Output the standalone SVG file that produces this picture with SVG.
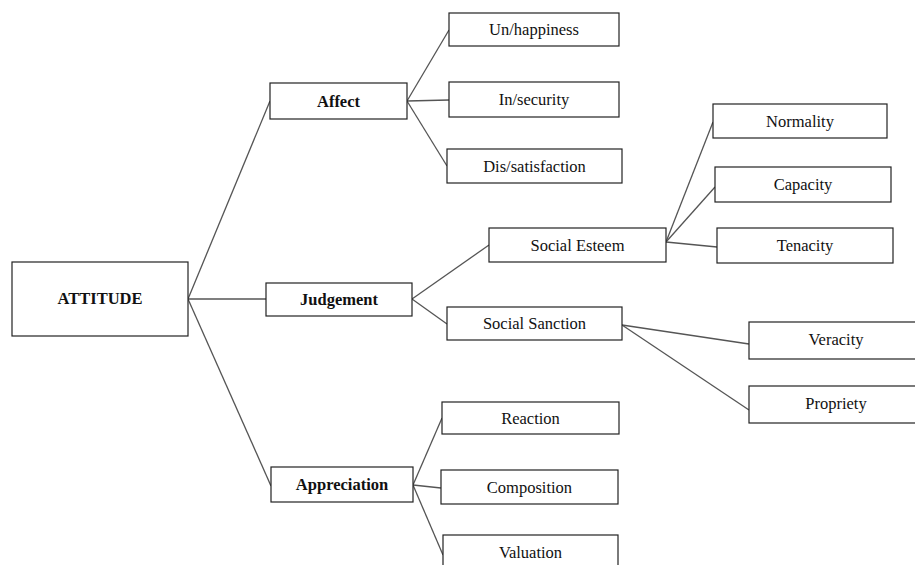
<svg xmlns="http://www.w3.org/2000/svg" width="915" height="565" viewBox="0 0 915 565">
<style>
rect{fill:#fff;stroke:#222;stroke-width:1.2}
.c line{stroke:#555;stroke-width:1.3}
text{font-family:"Liberation Serif","Times New Roman",serif;font-size:16.5px;fill:#111;text-anchor:middle}
.b{font-weight:bold}
</style>
<rect x="0" y="0" width="915" height="565" style="stroke:none"/>
<g class="c" id="connectors">
<line x1="188" y1="299" x2="270" y2="101"/>
<line x1="188" y1="299" x2="266" y2="299"/>
<line x1="188" y1="299" x2="271" y2="486"/>
<line x1="407" y1="101" x2="449" y2="30"/>
<line x1="407" y1="101" x2="449" y2="100"/>
<line x1="407" y1="101" x2="447" y2="166"/>
<line x1="412" y1="299" x2="489" y2="245"/>
<line x1="412" y1="299" x2="447" y2="324"/>
<line x1="666" y1="242" x2="713" y2="122"/>
<line x1="666" y1="242" x2="715" y2="187"/>
<line x1="666" y1="242" x2="717" y2="247"/>
<line x1="622" y1="325" x2="749" y2="344"/>
<line x1="622" y1="325" x2="749" y2="410"/>
<line x1="413" y1="485" x2="442" y2="418"/>
<line x1="413" y1="485" x2="441" y2="488"/>
<line x1="413" y1="485" x2="443" y2="555"/>
</g>
<g id="attitude"><rect x="12" y="262" width="176" height="74"/><text class="b" x="100" y="304">ATTITUDE</text></g>
<g id="affect"><rect x="270" y="83" width="137" height="36"/><text class="b" x="338.5" y="107">Affect</text></g>
<g id="judgement"><rect x="266" y="283" width="146" height="33"/><text class="b" x="339" y="305">Judgement</text></g>
<g id="appreciation"><rect x="271" y="467" width="142" height="35"/><text class="b" x="342" y="490">Appreciation</text></g>
<g id="unhappiness"><rect x="449" y="13" width="170" height="33"/><text x="534" y="35">Un/happiness</text></g>
<g id="insecurity"><rect x="449" y="82" width="170" height="35"/><text x="534" y="105">In/security</text></g>
<g id="dissatisfaction"><rect x="447" y="149" width="175" height="34"/><text x="534.5" y="172">Dis/satisfaction</text></g>
<g id="socialesteem"><rect x="489" y="228" width="177" height="34"/><text x="577.5" y="251">Social Esteem</text></g>
<g id="socialsanction"><rect x="447" y="307" width="175" height="33"/><text x="534.5" y="329">Social Sanction</text></g>
<g id="normality"><rect x="713" y="104" width="174" height="34"/><text x="800" y="127">Normality</text></g>
<g id="capacity"><rect x="715" y="167" width="176" height="35"/><text x="803" y="190">Capacity</text></g>
<g id="tenacity"><rect x="717" y="228" width="176" height="35"/><text x="805" y="251">Tenacity</text></g>
<g id="veracity"><rect x="749" y="322" width="170" height="37"/><text x="836" y="345">Veracity</text></g>
<g id="propriety"><rect x="749" y="386" width="170" height="37"/><text x="836" y="409">Propriety</text></g>
<g id="reaction"><rect x="442" y="402" width="177" height="32"/><text x="530.5" y="424">Reaction</text></g>
<g id="composition"><rect x="441" y="470" width="177" height="34"/><text x="529.5" y="493">Composition</text></g>
<g id="valuation"><rect x="443" y="535" width="175" height="40"/><text x="530.5" y="558">Valuation</text></g>
</svg>
